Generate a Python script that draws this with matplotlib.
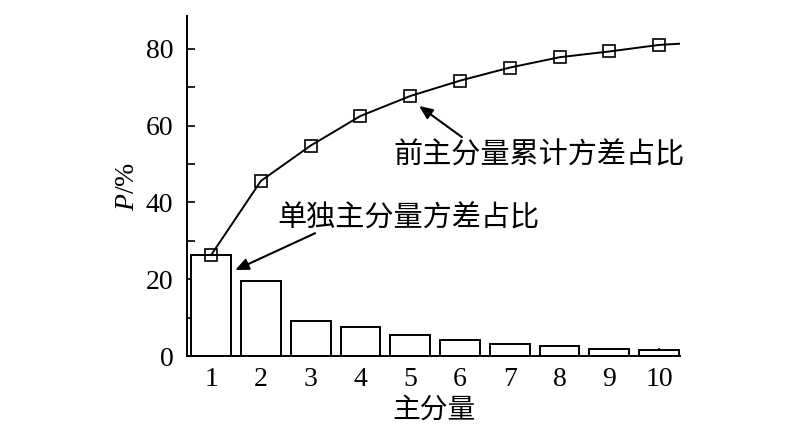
import matplotlib
matplotlib.use("Agg")
import matplotlib.pyplot as plt
from matplotlib.ticker import MultipleLocator

components = [1, 2, 3, 4, 5, 6, 7, 8, 9, 10]
single_var = [26.3, 19.5, 9.1, 7.5, 5.5, 4.2, 3.2, 2.7, 1.8, 1.6]
cum_var = [26.3, 45.6, 54.8, 62.5, 67.7, 71.7, 75.1, 77.8, 79.3, 81.0]
curve_tail_x = [10.52]
curve_tail_y = [81.4]
yticks = [0, 20, 40, 60, 80]
xlabel = "主分量"
label_single = "单独主分量方差占比"
label_cum = "前主分量累计方差占比"

plt.rcParams['mathtext.fontset'] = 'custom'
plt.rcParams['mathtext.it'] = 'Liberation Serif:italic'
plt.rcParams['mathtext.rm'] = 'Liberation Serif'

serif = ['Liberation Serif', 'DejaVu Serif']
cjk = ['Noto Sans CJK SC', 'DejaVu Sans']

fig = plt.figure(figsize=(8, 4.24), dpi=100)
ax = fig.add_axes([0.234, 0.160, 0.616, 0.802])

ax.bar(components, single_var, width=0.8, facecolor='white', edgecolor='black', linewidth=1.4, zorder=2)
ax.plot(components + curve_tail_x, cum_var + curve_tail_y, color='black', linewidth=1.4, zorder=3)
ax.plot(components, cum_var, linestyle='none', marker='s', markersize=8,
        markerfacecolor='none', markeredgecolor='black', markeredgewidth=1.2, zorder=4)

ax.set_xlim(0.52, 10.42)
ax.set_ylim(0, 88.5)
ax.set_xticks(components)
ax.set_yticks(yticks)
ax.yaxis.set_minor_locator(MultipleLocator(10))
ax.tick_params(axis='both', which='both', direction='in', length=6, width=1.2)
ax.tick_params(axis='x', pad=8)
ax.tick_params(axis='y', pad=10)
ax.tick_params(axis='y', which='minor', length=6)
for lab in ax.get_xticklabels() + ax.get_yticklabels():
    lab.set_fontfamily(serif)
    lab.set_fontsize(20)

for s in ['top', 'right']:
    ax.spines[s].set_visible(False)
for s in ['left', 'bottom']:
    ax.spines[s].set_linewidth(1.4)

ax.set_xlabel(xlabel, fontfamily=cjk, fontsize=20, fontweight='light', labelpad=2)
ax.set_ylabel(r'$P$/%', fontfamily=serif, fontsize=20, labelpad=4)

ax.text(2.33, 35.9, label_single, fontfamily=cjk, fontsize=21, fontweight='light', va='center', ha='left')
ax.text(4.66, 52.3, label_cum, fontfamily=cjk, fontsize=21, fontweight='light', va='center', ha='left')

arrow = dict(arrowstyle='-|>,head_length=0.8,head_width=0.35', color='black', lw=1.5, shrinkA=0, shrinkB=0)
ax.annotate('', xy=(1.484, 22.4), xytext=(3.09, 32.0), arrowprops=arrow)
ax.annotate('', xy=(5.18, 65.1), xytext=(6.04, 57.0), arrowprops=arrow)

fig.savefig('out.png', dpi=100)
